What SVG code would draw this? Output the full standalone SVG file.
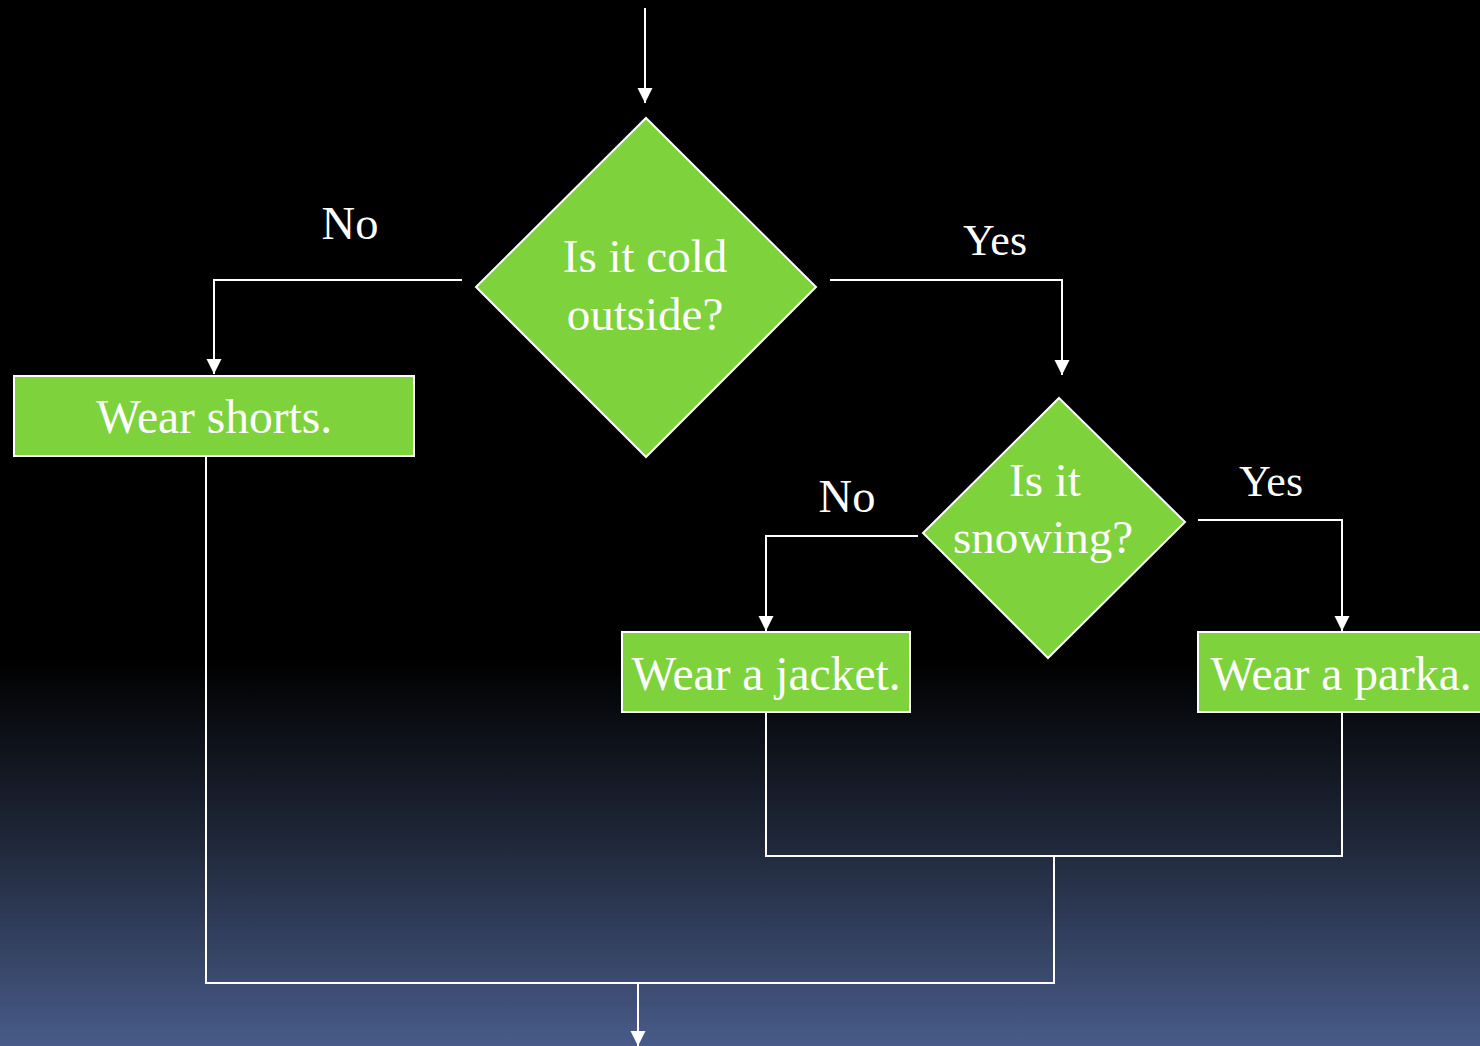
<svg xmlns="http://www.w3.org/2000/svg" width="1480" height="1046" viewBox="0 0 1480 1046">
<style>
.shape{fill:#7ed23c;stroke:#ffffff;stroke-width:2}
.t{font-family:"Liberation Serif","Times New Roman",serif;fill:#ffffff;text-anchor:middle}
.c{fill:none;stroke:#ffffff;stroke-width:2}
</style>
<defs>
<linearGradient id="bg" x1="0" y1="0" x2="0" y2="1">
<stop offset="0" stop-color="#000000"/>
<stop offset="0.63" stop-color="#000000"/>
<stop offset="0.8" stop-color="#1e2637"/>
<stop offset="1" stop-color="#485b89"/>
</linearGradient>
<marker id="ah" markerUnits="userSpaceOnUse" markerWidth="16" markerHeight="16" viewBox="0 0 16 16" refX="15" refY="8" orient="auto">
<path d="M0,0.5 L15,8 L0,15.5 Z" fill="#ffffff"/>
</marker>
</defs>
<rect x="0" y="0" width="1480" height="1046" fill="url(#bg)"/>
<g id="connectors">
<path class="c" d="M645,8 V103" marker-end="url(#ah)"/>
<path class="c" d="M462,280 H214 V374" marker-end="url(#ah)"/>
<path class="c" d="M830,280 H1062 V375" marker-end="url(#ah)"/>
<path class="c" d="M918,536 H766 V631" marker-end="url(#ah)"/>
<path class="c" d="M1198,520 H1342 V631" marker-end="url(#ah)"/>
<path class="c" d="M766,712 V856 H1342 V712"/>
<path class="c" d="M1054,856 V983 H206 V456"/>
<path class="c" d="M638,983 V1046" marker-end="url(#ah)"/>
</g>
<g id="q1">
<polygon class="shape" points="646,118 816,287 646,457 476,287"/>
<text class="t" x="645" y="272" font-size="47">Is it cold</text>
<text class="t" x="645" y="330" font-size="47">outside?</text>
</g>
<g id="label-no1"><text class="t" x="350" y="239" font-size="46.5">No</text></g>
<g id="label-yes1"><text class="t" x="995" y="255" font-size="44">Yes</text></g>
<g id="shorts">
<rect class="shape" x="14" y="376" width="400" height="80"/>
<text class="t" x="214" y="433" font-size="47.5">Wear shorts.</text>
</g>
<g id="q2">
<polygon class="shape" points="1059,398 1185,522 1048,658 923,533"/>
<text class="t" x="1045" y="496" font-size="47">Is it</text>
<text class="t" x="1043" y="553" font-size="47">snowing?</text>
</g>
<g id="label-no2"><text class="t" x="847" y="512" font-size="46.5">No</text></g>
<g id="label-yes2"><text class="t" x="1271" y="496" font-size="44">Yes</text></g>
<g id="jacket">
<rect class="shape" x="622" y="632" width="288" height="80"/>
<text class="t" x="766" y="690" font-size="47.5">Wear a jacket.</text>
</g>
<g id="parka">
<rect class="shape" x="1198" y="632" width="288" height="80"/>
<text class="t" x="1341" y="690" font-size="47.5">Wear a parka.</text>
</g>
</svg>
